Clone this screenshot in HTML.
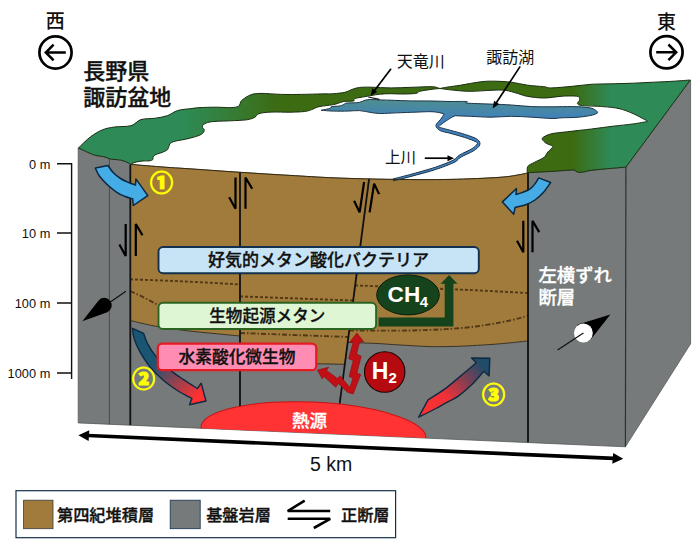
<!DOCTYPE html>
<html lang="ja"><head><meta charset="utf-8"><title>諏訪盆地</title>
<style>html,body{margin:0;padding:0;background:#fff}svg{display:block}</style></head>
<body>
<svg width="692" height="541" viewBox="0 0 692 541">
<defs>
<linearGradient id="gg" gradientUnits="userSpaceOnUse" x1="79" y1="0" x2="690" y2="0">
<stop offset="0" stop-color="#2e8b57"/><stop offset="0.17" stop-color="#2e8b57"/><stop offset="0.25" stop-color="#367c36"/><stop offset="0.325" stop-color="#3c6b12"/>
<stop offset="0.808" stop-color="#3c6b12"/><stop offset="0.872" stop-color="#2e8b57"/><stop offset="1" stop-color="#2e8b57"/>
</linearGradient>
<linearGradient id="lg" gradientUnits="userSpaceOnUse" x1="400" y1="100" x2="400" y2="119">
<stop offset="0" stop-color="#4f8e8e"/><stop offset="1" stop-color="#4081bd"/>
</linearGradient>
<linearGradient id="a2" gradientUnits="userSpaceOnUse" x1="136" y1="330" x2="203" y2="398">
<stop offset="0" stop-color="#1b5574"/><stop offset="0.38" stop-color="#1b5574"/><stop offset="0.95" stop-color="#ff3030"/><stop offset="1" stop-color="#ff3030"/>
</linearGradient>
<linearGradient id="a3" gradientUnits="userSpaceOnUse" x1="422" y1="414" x2="488" y2="360">
<stop offset="0" stop-color="#ff3030"/><stop offset="0.35" stop-color="#f03038"/><stop offset="0.92" stop-color="#1e4c6a"/><stop offset="1" stop-color="#1e4c6a"/>
</linearGradient>
</defs>
<rect width="692" height="541" fill="#fff"/>
<path d="M78.2,148 L78.4,148.0 L86.6,151.8 L93.5,154.7 L98.1,155.8 L105.1,157.0 L109.1,158.7 L113.2,159.3 L121.2,160.2 L127.0,162.2 L130.5,164.1 L130.5,164.4 C136.2,164.9 155.9,166.5 165.0,167.2 C174.1,167.9 172.5,167.7 185.0,168.5 C197.5,169.3 222.5,171.2 240.0,172.3 C257.5,173.5 274.2,174.5 290.0,175.4 C305.8,176.3 317.5,177.2 335.0,177.9 C352.5,178.6 375.8,179.2 395.0,179.4 C414.2,179.7 432.5,179.8 450.0,179.4 C467.5,179.1 488.3,178.1 500.0,177.3 C511.7,176.5 515.3,175.3 520.0,174.6 C524.7,173.8 526.7,173.1 528.0,172.8 L527.2,172.7 L535.9,172.2 L551.8,171.4 L567.7,170.3 L574.0,170.0 L578.0,172.3 L583.6,171.9 L591.5,170.3 L607.4,168.7 L625.9,167.1 L690.6,80 L690.6,343.8 L625.4,446.8 L78.2,422.9 Z" fill="#767a7a" stroke="#55595a" stroke-width="0.8"/>
<path d="M130.5,164.4 C136.2,164.9 155.9,166.5 165.0,167.2 C174.1,167.9 172.5,167.7 185.0,168.5 C197.5,169.3 230.8,171.7 240.0,172.3 L240,336 L240.0,336.0 C235.8,335.6 224.2,334.5 215.0,333.6 C205.8,332.7 194.5,331.7 185.0,330.5 C175.5,329.3 165.0,327.8 158.0,326.6 C151.0,325.5 147.6,324.6 143.0,323.6 C138.4,322.6 132.4,320.9 130.3,320.4 Z" fill="#a07b3b"/>
<path d="M240,172.3 L240.0,172.3 C248.3,172.8 274.2,174.5 290.0,175.4 C305.8,176.3 321.8,177.3 335.0,177.9 C348.2,178.5 363.4,178.7 369.1,178.8 L344.8,364.3 L300,363.5 L240,362 Z" fill="#a07b3b"/>
<path d="M369.1,178.8 L369.1,178.8 C373.4,178.9 381.5,179.3 395.0,179.4 C408.5,179.5 432.5,179.8 450.0,179.4 C467.5,179.1 488.3,178.1 500.0,177.3 C511.7,176.5 515.3,175.3 520.0,174.6 C524.7,173.8 526.7,173.1 528.0,172.8 L528,341 L528.0,341.0 C526.7,341.1 523.1,341.5 520.0,341.8 C516.9,342.1 513.7,342.5 509.5,342.9 C505.3,343.3 500.3,343.8 495.0,344.2 C489.7,344.6 484.4,344.9 477.7,345.3 C471.0,345.7 462.9,346.2 455.0,346.4 C447.1,346.6 439.2,346.8 430.0,346.6 C420.8,346.4 409.2,345.5 400.0,345.0 C390.8,344.5 383.7,343.8 375.0,343.4 C366.3,343.0 352.2,342.6 347.7,342.4 Z" fill="#a07b3b"/>
<path d="M130.3,320.4 C132.4,320.9 138.4,322.6 143.0,323.6 C147.6,324.6 151.0,325.5 158.0,326.6 C165.0,327.8 175.5,329.3 185.0,330.5 C194.5,331.7 205.8,332.7 215.0,333.6 C224.2,334.5 235.8,335.6 240.0,336.0 " fill="none" stroke="#3a3326" stroke-width="1"/>
<path d="M240,362 L300,363.5 L344.8,364.3" fill="none" stroke="#3a3326" stroke-width="1"/>
<path d="M528.0,341.0 C526.7,341.1 523.1,341.5 520.0,341.8 C516.9,342.1 513.7,342.5 509.5,342.9 C505.3,343.3 500.3,343.8 495.0,344.2 C489.7,344.6 484.4,344.9 477.7,345.3 C471.0,345.7 462.9,346.2 455.0,346.4 C447.1,346.6 439.2,346.8 430.0,346.6 C420.8,346.4 409.2,345.5 400.0,345.0 C390.8,344.5 383.7,343.8 375.0,343.4 C366.3,343.0 352.2,342.6 347.7,342.4 " fill="none" stroke="#3a3326" stroke-width="1"/>
<path d="M109.4,159 L109.4,424.3" stroke="#4a4d4d" stroke-width="1" fill="none"/>
<path d="M625.9,167.1 L625.4,446.8" stroke="#2e3131" stroke-width="1.2" fill="none"/>
<clipPath id="cf"><path d="M79,300 L626.5,300 L626.5,446.8 L79,422.9 Z"/></clipPath>
<path d="M130,279.4 Q185,281 240,284.5" fill="none" stroke="#523816" stroke-width="1.9" stroke-dasharray="3,2"/>
<path d="M130,291 Q146,298 158.5,305.5" fill="none" stroke="#523816" stroke-width="1.9" stroke-dasharray="5,2,1.5,2"/>
<path d="M240,296.4 L353.2,300.5" fill="none" stroke="#523816" stroke-width="1.9" stroke-dasharray="3,2"/>
<path d="M240,333 L348.4,337" fill="none" stroke="#523816" stroke-width="1.9" stroke-dasharray="5,2,1.5,2"/>
<path d="M355.1,285.4 C362.6,285.7 385.9,286.6 400.0,287.2 C414.1,287.8 426.6,288.3 439.5,288.8 C452.4,289.3 462.9,289.7 477.7,290.4 C492.4,291.1 519.6,292.6 528.0,293.0 " fill="none" stroke="#523816" stroke-width="1.9" stroke-dasharray="3,2"/>
<path d="M349.2,330.6 C357.7,330.6 386.5,330.7 400.0,330.6 C413.5,330.5 421.0,330.2 430.0,329.9 C439.0,329.6 445.9,329.2 453.8,328.6 C461.8,328.0 469.8,327.3 477.7,326.2 C485.6,325.1 494.6,323.5 501.5,322.2 C508.4,320.9 514.6,319.4 519.0,318.3 C523.4,317.2 526.5,316.0 528.0,315.5 " fill="none" stroke="#523816" stroke-width="1.9" stroke-dasharray="5,2,1.5,2"/>
<path d="M130.3,164.4 L130.3,424.9" stroke="#111" stroke-width="1.8" fill="none"/>
<path d="M240,172.2 L240,427.0" stroke="#111" stroke-width="1.8" fill="none"/>
<path d="M369.1,178.8 L339.5,405.0" stroke="#111" stroke-width="1.8" fill="none" stroke-width="1.8"/>
<path d="M528,172.8 L528,442.2" stroke="#111" stroke-width="1.8" fill="none"/>
<path d="M125.7,224.0 L125.7,256.0 L119.4,244.5" stroke="#000" stroke-width="2.2" fill="none" stroke-linejoin="bevel"/>
<path d="M135.8,256.0 L135.8,224.0 L142.5,235.3" stroke="#000" stroke-width="2.2" fill="none" stroke-linejoin="bevel"/>
<path d="M235.5,177.5 L235.5,208.8 L229.2,197.3" stroke="#000" stroke-width="2.2" fill="none" stroke-linejoin="bevel"/>
<path d="M245.5,208.8 L245.5,177.5 L252.2,188.8" stroke="#000" stroke-width="2.2" fill="none" stroke-linejoin="bevel"/>
<path d="M364.1,182 L359.6,212.4 L354.1,200.7" stroke="#000" stroke-width="2.2" fill="none" stroke-linejoin="bevel"/>
<path d="M369.6,212.4 L374.1,183.6 L379.1,194.1" stroke="#000" stroke-width="2.2" fill="none" stroke-linejoin="bevel"/>
<path d="M523.3,220.8 L523.3,252.3 L517.0,240.8" stroke="#000" stroke-width="2.2" fill="none" stroke-linejoin="bevel"/>
<path d="M532.5,252.3 L532.5,220.8 L539.2,232.1" stroke="#000" stroke-width="2.2" fill="none" stroke-linejoin="bevel"/>
<g clip-path="url(#cf)"><ellipse cx="313.5" cy="432.9" rx="112.5" ry="30.8" fill="#ff3333" stroke="#c81414" stroke-width="1" transform="matrix(1,0.0447,0,1,0,-14.01)"/></g>
<path d="M78.4,148.0 C80.4,146.2 86.3,140.0 90.3,137.0 C94.3,134.0 98.4,131.5 102.5,129.8 C106.6,128.1 110.0,127.7 114.7,127.0 C119.5,126.3 126.6,126.9 131.0,125.7 C135.4,124.5 136.9,120.8 141.0,119.6 C145.1,118.3 151.0,118.9 155.4,118.2 C159.8,117.5 163.9,116.9 167.6,115.6 C171.3,114.3 173.6,111.7 177.7,110.5 C181.8,109.3 188.3,109.0 192.0,108.5 C195.7,108.0 195.9,107.8 200.0,107.6 C204.1,107.4 211.2,107.2 216.3,107.2 C221.4,107.2 226.8,107.8 230.5,107.6 C234.2,107.4 236.7,107.4 238.6,106.2 C240.5,105.0 239.7,102.4 241.7,100.5 C243.7,98.6 247.6,96.0 250.8,94.8 C254.0,93.6 255.9,93.5 261.0,93.4 C266.1,93.3 274.5,94.2 281.3,94.4 C288.1,94.6 294.8,94.5 301.6,94.4 C308.4,94.3 316.7,94.0 322.0,93.9 C327.3,93.8 329.6,94.0 333.4,93.7 C337.2,93.4 341.8,93.0 344.9,92.3 C348.0,91.6 349.7,90.2 352.1,89.4 C354.5,88.6 356.3,87.9 359.4,87.5 C362.5,87.1 365.6,87.1 370.9,87.2 C376.2,87.3 384.5,87.9 391.3,87.9 C398.1,87.9 404.8,87.5 411.6,87.3 C418.4,87.1 427.3,86.5 432.0,86.7 C436.7,86.9 438.7,88.2 440.0,88.5 L440.0,88.5 C438.7,88.6 435.4,88.8 432.0,89.3 C428.6,89.8 422.5,90.6 419.8,91.3 C417.1,92.0 418.8,93.0 415.7,93.4 C412.6,93.9 405.8,94.0 401.5,94.0 C397.2,94.0 393.6,93.7 390.0,93.7 C386.4,93.7 382.8,93.9 379.6,94.2 C376.4,94.5 373.8,95.1 370.9,95.6 C368.0,96.1 365.1,96.6 362.3,97.1 C359.5,97.6 355.8,98.1 354.3,98.8 C352.9,99.5 355.2,100.6 353.6,101.0 C352.0,101.4 347.1,101.2 344.9,101.4 C342.7,101.6 342.5,101.9 340.6,102.4 C338.7,102.9 337.0,103.9 333.4,104.6 C329.8,105.3 322.5,105.9 318.9,106.7 C315.3,107.5 314.1,108.8 311.7,109.6 C309.3,110.4 308.1,111.1 304.5,111.5 C300.9,111.9 295.6,112.1 290.0,112.2 C284.4,112.3 276.3,111.8 271.1,112.1 C265.9,112.3 261.6,112.8 258.9,113.7 C256.2,114.6 256.9,116.2 254.9,117.2 C252.9,118.2 250.8,119.2 246.7,119.8 C242.6,120.4 235.8,120.5 230.5,120.8 C225.2,121.1 218.8,121.1 215.0,121.4 C211.2,121.7 209.7,121.9 207.7,122.5 C205.7,123.1 204.0,124.0 203.2,124.8 C202.3,125.6 202.4,126.6 202.6,127.5 C202.8,128.4 204.5,129.2 204.3,130.3 C204.1,131.4 203.4,133.0 201.6,134.2 C199.8,135.3 196.3,136.4 193.6,137.2 C190.9,138.0 188.6,138.5 185.5,139.2 C182.4,139.9 177.8,140.5 175.3,141.2 C172.8,141.9 171.4,142.4 170.3,143.3 C169.2,144.2 169.3,145.7 168.8,146.8 C168.3,147.9 168.4,148.9 167.3,149.8 C166.2,150.7 164.1,151.6 162.2,152.4 C160.3,153.2 157.6,153.7 156.1,154.4 C154.6,155.2 153.6,156.0 153.1,156.9 C152.6,157.8 153.5,158.9 152.8,159.6 C152.1,160.3 150.5,160.7 149.0,160.9 C147.5,161.1 146.0,160.7 143.9,160.9 C141.8,161.1 138.9,161.4 136.7,161.9 C134.5,162.4 131.5,163.7 130.5,164.1 L130.5,164.1 C129.9,163.8 128.6,162.8 127.0,162.2 C125.5,161.5 123.5,160.7 121.2,160.2 C118.9,159.7 115.2,159.6 113.2,159.3 C111.2,159.1 110.4,159.1 109.1,158.7 C107.8,158.3 106.9,157.5 105.1,157.0 C103.3,156.5 100.0,156.2 98.1,155.8 C96.2,155.4 95.4,155.4 93.5,154.7 C91.6,154.0 89.1,152.9 86.6,151.8 C84.1,150.7 79.8,148.6 78.4,148.0 Z" fill="url(#gg)" stroke="#1a2e10" stroke-width="1"/>
<path d="M440.0,88.5 C441.3,88.2 444.6,87.5 448.0,87.0 C451.4,86.5 455.0,86.1 460.5,85.2 C466.0,84.3 475.1,82.5 480.8,81.8 C486.6,81.1 489.9,81.1 495.0,81.2 C500.1,81.3 505.9,81.5 511.3,82.2 C516.7,82.9 522.2,84.5 527.6,85.2 C533.0,86.0 539.7,86.2 543.8,86.7 C547.9,87.2 547.2,88.0 552.0,87.9 C556.8,87.8 565.5,86.9 572.3,86.3 C579.1,85.7 585.9,84.6 592.7,84.2 C599.5,83.8 606.2,84.0 613.0,83.8 C619.8,83.6 626.5,83.5 633.3,83.2 C640.1,82.9 646.8,82.5 653.6,82.2 C660.4,81.9 667.9,81.6 674.0,81.2 C680.1,80.8 687.6,80.2 690.3,80.0 L625.9,167.1 L625.9,167.1 C622.8,167.4 613.1,168.2 607.4,168.7 C601.7,169.2 595.5,169.8 591.5,170.3 C587.5,170.8 585.9,171.6 583.6,171.9 C581.4,172.2 579.6,172.6 578.0,172.3 C576.4,172.0 575.7,170.3 574.0,170.0 C572.3,169.7 571.4,170.1 567.7,170.3 C564.0,170.5 557.1,171.1 551.8,171.4 C546.5,171.7 540.0,172.0 535.9,172.2 C531.8,172.4 528.7,172.6 527.2,172.7 L527.2,172.7 C527.3,171.6 526.7,168.0 527.9,166.3 C529.1,164.6 531.6,163.9 534.3,162.4 C536.9,160.9 541.5,159.3 543.8,157.6 C546.0,155.9 546.3,153.8 547.8,152.0 C549.3,150.2 552.9,147.9 552.6,146.5 C552.3,145.1 547.9,144.5 546.2,143.3 C544.5,142.1 542.7,140.4 542.3,139.3 C541.9,138.2 542.2,137.8 543.8,136.9 C545.4,136.0 547.8,134.6 551.8,133.7 C555.8,132.8 561.1,132.5 567.7,131.7 C574.3,130.9 584.0,129.9 591.5,129.0 C599.0,128.1 606.0,127.0 613.0,126.2 C620.0,125.4 627.5,124.7 633.3,123.9 C639.0,123.1 645.1,121.9 647.5,121.5 L647.5,121.0 C645.1,119.8 638.0,115.8 633.3,113.7 C628.5,111.6 624.1,109.8 619.0,108.6 C613.9,107.4 608.9,107.1 602.8,106.6 C596.7,106.1 586.7,106.1 582.5,105.6 C578.3,105.1 577.9,104.3 577.4,103.5 C576.9,102.7 579.2,101.7 579.4,100.5 C579.6,99.3 580.2,97.3 578.4,96.6 C576.5,95.8 571.4,96.0 568.3,96.0 C565.2,96.0 564.1,96.1 560.0,96.4 C555.9,96.7 549.2,98.0 543.8,98.0 C538.4,98.0 532.0,97.2 527.6,96.4 C523.2,95.6 521.1,94.4 517.4,93.4 C513.7,92.4 509.6,90.8 505.2,90.3 C500.8,89.8 496.8,90.1 491.0,90.3 C485.2,90.5 476.8,91.3 470.7,91.3 C464.6,91.3 459.5,90.8 454.4,90.3 C449.3,89.8 442.4,88.8 440.0,88.5 Z" fill="url(#gg)" stroke="#1a2e10" stroke-width="1"/>
<path d="M321.1,110.3 C322.7,110.0 328.8,108.8 330.5,108.2 C332.2,107.6 329.8,107.1 331.2,106.7 C332.6,106.3 337.1,106.3 339.1,106.0 C341.2,105.7 342.3,105.1 343.5,104.6 C344.7,104.1 344.7,103.4 346.4,103.1 C348.1,102.8 351.4,102.9 353.6,102.8 C355.8,102.7 357.5,102.8 359.4,102.4 C361.3,102.0 363.2,100.7 365.1,100.2 C367.0,99.7 368.5,99.5 370.9,99.5 C373.3,99.5 376.4,99.8 379.6,99.9 C382.8,100.0 384.7,100.0 390.0,100.2 C395.3,100.4 404.6,100.8 411.6,100.9 C418.6,101.0 425.6,100.9 432.0,101.0 C438.4,101.1 444.2,101.4 450.0,101.5 C455.8,101.6 463.8,101.2 466.6,101.5 C469.4,101.8 462.9,102.7 467.0,103.1 C471.1,103.5 483.6,103.8 491.0,104.1 C498.4,104.4 504.5,104.6 511.3,105.0 C518.1,105.4 524.8,106.3 531.6,106.6 C538.4,106.9 545.2,106.8 552.0,106.8 C558.8,106.8 566.2,106.5 572.3,106.6 C578.4,106.7 584.7,107.0 588.6,107.6 C592.5,108.2 594.2,109.3 595.7,110.2 C597.2,111.1 597.4,112.3 597.7,112.7 L597.7,112.7 C596.9,113.1 595.9,114.2 592.7,115.0 C589.5,115.8 583.5,116.7 578.4,117.2 C573.3,117.7 566.4,117.6 562.0,117.8 C557.6,118.0 557.1,118.6 552.0,118.5 C546.9,118.4 538.4,117.6 531.6,117.2 C524.8,116.8 518.1,116.3 511.3,116.3 C504.5,116.3 497.8,117.2 491.0,117.2 C484.2,117.2 476.0,116.5 470.7,116.3 C465.4,116.1 460.9,116.0 459.0,115.9 L455.1,115.7 C454.1,116.2 452.0,117.0 449.3,118.8 C446.6,120.6 440.3,124.7 439.1,126.3 C437.8,127.8 439.7,127.3 441.6,127.9 C443.6,128.6 446.7,129.2 450.7,130.4 C454.7,131.5 461.0,133.1 465.5,134.6 C469.9,136.1 475.1,137.7 477.4,139.4 C479.8,141.2 480.4,143.1 479.7,145.1 C479.0,147.0 476.5,148.9 473.4,150.9 C470.3,152.9 464.2,155.1 461.1,157.0 C458.1,158.8 458.1,160.3 455.0,162.0 C451.9,163.6 446.7,165.5 442.6,167.1 C438.5,168.6 434.7,169.8 430.3,171.2 C425.9,172.5 420.6,173.8 416.3,175.0 C411.9,176.2 408.0,177.2 404.3,178.2 C400.5,179.1 395.3,180.4 393.5,180.9 L393.1,178.9 C394.8,178.5 400.0,177.2 403.7,176.2 C407.5,175.2 411.4,174.2 415.7,173.0 C420.0,171.8 425.3,170.4 429.7,169.0 C434.0,167.7 437.8,166.5 441.8,164.9 C445.8,163.4 450.8,161.5 453.8,159.8 C456.8,158.2 456.8,156.7 459.9,154.8 C462.9,153.0 469.1,150.5 472.0,148.7 C474.9,146.9 476.5,145.1 477.1,143.9 C477.8,142.8 478.0,142.9 476.0,141.8 C473.9,140.7 468.9,138.8 464.5,137.4 C460.2,136.0 453.9,134.4 449.9,133.2 C445.9,132.1 442.7,131.9 440.4,130.7 C438.0,129.4 435.9,127.4 435.9,125.5 C435.9,123.7 439.0,121.5 440.4,119.6 C441.8,117.7 443.6,114.9 444.2,114.0 L443.0,113.5 C441.2,113.2 437.2,111.9 432.0,111.7 C426.8,111.5 418.4,112.1 411.6,112.3 C404.8,112.5 396.6,112.9 391.3,113.1 C386.0,113.3 383.0,113.6 379.6,113.5 C376.2,113.4 374.3,113.0 370.9,112.5 C367.5,112.0 363.2,110.8 359.4,110.6 C355.5,110.4 352.1,111.0 347.8,111.1 C343.5,111.2 337.8,111.2 333.4,111.1 C328.9,111.0 323.2,110.4 321.1,110.3 Z" fill="url(#lg)" stroke="#1c3448" stroke-width="1"/>
<path d="M368.3,97 L379.4,99.4" stroke="#111" stroke-width="1.1"/>
<path d="M130.5,164.4 C136.2,164.9 155.9,166.5 165.0,167.2 C174.1,167.9 172.5,167.7 185.0,168.5 C197.5,169.3 222.5,171.2 240.0,172.3 C257.5,173.5 274.2,174.5 290.0,175.4 C305.8,176.3 317.5,177.2 335.0,177.9 C352.5,178.6 375.8,179.2 395.0,179.4 C414.2,179.7 432.5,179.8 450.0,179.4 C467.5,179.1 488.3,178.1 500.0,177.3 C511.7,176.5 515.3,175.3 520.0,174.6 C524.7,173.8 526.7,173.1 528.0,172.8 " fill="none" stroke="#33280f" stroke-width="1"/>
<path d="M132.5,328.3 L143.6,333.3 L143.6,333.3 C144.2,335.0 145.5,339.8 147.5,343.6 C149.5,347.4 152.3,351.9 155.8,356.1 C159.3,360.3 163.7,364.7 168.3,368.6 C172.9,372.5 178.3,376.1 183.2,379.4 C188.0,382.7 195.0,387.0 197.4,388.5 L201.2,383.2 L206,401 L189.5,404.7 L191.9,398.5 L191.9,398.5 C189.6,397.2 183.0,394.1 178.2,391.0 C173.4,387.9 168.0,384.2 163.3,380.2 C158.6,376.2 153.9,371.6 150.0,366.9 C146.1,362.2 142.7,356.6 140.0,351.9 C137.3,347.2 135.3,342.5 134.1,338.6 C132.8,334.7 132.8,330.0 132.5,328.3 Z" fill="url(#a2)" stroke="#0e2a42" stroke-width="1.4" stroke-linejoin="round"/>
<rect x="158.5" y="247" width="320.3" height="26.2" rx="4.5" fill="#c7e4f7" stroke="#14304f" stroke-width="1.9"/>
<rect x="158.5" y="302.8" width="217.6" height="26.2" rx="4.5" fill="#dff6d4" stroke="#2b6420" stroke-width="1.9"/>
<rect x="157.8" y="343.6" width="158.5" height="26.6" rx="4.5" fill="#ff8db3" stroke="#e41c24" stroke-width="2.3"/>
<text x="318.6" y="266.3" text-anchor="middle" style="font-family:'Liberation Sans','Noto Sans CJK JP',sans-serif;font-size:17px;font-weight:500" fill="#111" stroke="#111" stroke-width="0.32">好気的メタン酸化バクテリア</text>
<text x="267.3" y="322.1" text-anchor="middle" style="font-family:'Liberation Sans','Noto Sans CJK JP',sans-serif;font-size:16.6px;font-weight:500" fill="#111" stroke="#111" stroke-width="0.32">生物起源メタン</text>
<text x="237" y="363.2" text-anchor="middle" style="font-family:'Liberation Sans','Noto Sans CJK JP',sans-serif;font-size:16.7px;font-weight:500" fill="#111" stroke="#111" stroke-width="0.32">水素酸化微生物</text>
<path d="M378.6,317.6 L444.7,317.6 L444.7,283.7 L440.6,283.7 L449.1,275 L457.5,283.7 L453.4,283.7 L453.4,326.4 L378.6,326.4 Z" fill="#15431b"/>
<ellipse cx="408" cy="294.9" rx="31.3" ry="20" fill="#15431b" stroke="#0c1c0c" stroke-width="1"/>
<text x="387.6" y="301.8" style="font-family:'Liberation Sans',sans-serif;font-size:22.6px;font-weight:700" fill="#fff">CH<tspan dy="5.2" dx="-0.6" font-size="15">4</tspan></text>
<path d="M356.9,333.0 L363.7,341.6 L359.6,342.2 L356.6,354.1 L361.2,356.2 L356.9,372.9 L360.7,374.5 L353.2,394.0 L347.4,392.3 L338.3,383.5 L335.8,387.3 L323.8,376.5 L322.3,379.0 L317.4,370.0 L328.6,367.3 L326.6,370.4 L337.5,378.5 L339.9,375.7 L349.9,387.3 L352.9,378.2 L349.1,376.5 L353.2,360.7 L348.6,358.6 L353.2,342.2 L349.4,342.4 Z" fill="#c00f15" stroke="#8f0a10" stroke-width="0.6" stroke-linejoin="round"/>
<circle cx="384.7" cy="372" r="20.2" fill="#b50b10" stroke="#1a0505" stroke-width="1.1"/>
<text x="371.8" y="379.1" style="font-family:'Liberation Sans',sans-serif;font-size:23px;font-weight:700" fill="#fff">H<tspan dy="4.3" font-size="15">2</tspan></text>
<text x="309.6" y="427" text-anchor="middle" style="font-family:'Liberation Sans','Noto Sans CJK JP',sans-serif;font-size:17.5px;font-weight:500" fill="#fff" stroke="#fff" stroke-width="0.3">熱源</text>
<path d="M418.7,417.2 L428,399.9 L428.0,399.9 C430.9,398.0 440.0,392.5 445.3,388.6 C450.6,384.7 454.7,380.9 459.9,376.6 C465.1,372.3 473.6,365.1 476.3,362.8 L471.5,358 L489.8,358.2 L489.1,375.9 L483.8,371.3 L483.8,371.3 C481.8,373.5 476.1,380.5 471.9,384.6 C467.7,388.7 463.0,392.8 458.6,395.9 C454.2,399.0 449.1,401.1 445.3,403.2 C441.5,405.3 440.3,406.2 435.9,408.5 C431.5,410.8 421.6,415.8 418.7,417.2 Z" fill="url(#a3)" stroke="#0e2a42" stroke-width="1.4" stroke-linejoin="round"/>
<path d="M108.0,165.5 C108.8,166.7 111.0,170.3 113.1,172.5 C115.2,174.7 117.9,176.8 120.5,178.5 C123.1,180.2 126.3,181.5 128.8,182.6 C131.3,183.7 134.4,184.6 135.5,185.0 L135.9,178.9 L147.8,195.6 L133.3,205.5 L132.7,198.8 L132.7,198.8 C131.4,198.4 127.8,197.6 125.1,196.5 C122.4,195.4 119.9,194.4 116.8,192.3 C113.7,190.2 109.5,186.8 106.6,184.0 C103.7,181.2 101.1,178.3 99.2,175.7 C97.3,173.0 96.0,169.4 95.4,168.1 Z" fill="#45ace6" stroke="#0c2740" stroke-width="1.5" stroke-linejoin="round"/>
<path d="M538.7,177.9 C538.1,178.9 536.5,182.0 535.0,183.9 C533.5,185.8 531.6,188.0 529.4,189.4 C527.2,190.8 524.2,191.8 522.0,192.6 C519.8,193.4 517.0,194.2 516.0,194.5 L516.5,188.5 L502.4,201.9 L513.7,214.2 L515.1,207.4 L515.1,207.4 C516.9,206.9 522.4,205.9 525.7,204.7 C529.0,203.5 532.1,202.0 535.0,200.0 C537.9,198.0 540.7,195.5 543.3,192.6 C545.9,189.7 549.5,184.2 550.7,182.5 Z" fill="#45ace6" stroke="#0c2740" stroke-width="1.5" stroke-linejoin="round"/>
<text x="161.5" y="191.2" text-anchor="middle" style="font-family:'Liberation Sans','Noto Sans CJK JP',sans-serif;font-size:23px;font-weight:900" fill="#ffff00" stroke="#ffff00" stroke-width="1.1" stroke-linejoin="round">①</text>
<text x="143.5" y="387.1" text-anchor="middle" style="font-family:'Liberation Sans','Noto Sans CJK JP',sans-serif;font-size:23px;font-weight:900" fill="#ffff00" stroke="#ffff00" stroke-width="1.1" stroke-linejoin="round">②</text>
<text x="493.4" y="403.1" text-anchor="middle" style="font-family:'Liberation Sans','Noto Sans CJK JP',sans-serif;font-size:23px;font-weight:900" fill="#ffff00" stroke="#ffff00" stroke-width="1.1" stroke-linejoin="round">③</text>
<path d="M125.9,291.3 L106,304.9" stroke="#111" stroke-width="1.2"/>
<path d="M82.3,321.3 L98.2,300.9 A7.5,7.5 0 1 1 107.3,312.2 Z" fill="#000"/>
<path d="M610.4,314.6 L578,324.6 A9.6,9.6 0 0 0 591.5,338.5 Z" fill="#000"/>
<circle cx="583.4" cy="333" r="9.4" fill="#fff"/>
<path d="M583.4,333 L557.6,350" stroke="#111" stroke-width="1.2"/>
<text x="538.6" y="282.3" style="font-family:'Liberation Sans','Noto Sans CJK JP',sans-serif;font-size:18.3px;font-weight:500" fill="#fff" stroke="#fff" stroke-width="0.32">左横ずれ</text>
<text x="538.6" y="304.4" style="font-family:'Liberation Sans','Noto Sans CJK JP',sans-serif;font-size:18.3px;font-weight:500" fill="#fff" stroke="#fff" stroke-width="0.32">断層</text>
<path d="M57,163.8 L71.6,163.8 L71.6,379 M57,233 L71.6,233 M57,303 L71.6,303 M57,373 L71.6,373" fill="none" stroke="#111" stroke-width="1.4"/>
<text x="50.3" y="168.7" text-anchor="end" style="font-family:'Liberation Sans',sans-serif;font-size:12.8px" fill="#111">0 m</text>
<text x="50.3" y="237.9" text-anchor="end" style="font-family:'Liberation Sans',sans-serif;font-size:12.8px" fill="#111">10 m</text>
<text x="50.3" y="307.9" text-anchor="end" style="font-family:'Liberation Sans',sans-serif;font-size:12.8px" fill="#111">100 m</text>
<text x="50.3" y="377.9" text-anchor="end" style="font-family:'Liberation Sans',sans-serif;font-size:12.8px" fill="#111">1000 m</text>
<path d="M88,435.5 L614,458.4" stroke="#000" stroke-width="3.7"/>
<path d="M78.4,435.2 L89.3,430.2 L88.6,441 Z" fill="#000"/>
<path d="M623.2,458.7 L613.2,453.1 L612.3,463.8 Z" fill="#000"/>
<text x="310" y="471" style="font-family:'Liberation Sans',sans-serif;font-size:19.5px" fill="#111">5 km</text>
<text x="83.3" y="79.3" style="font-family:'Liberation Sans','Noto Sans CJK JP',sans-serif;font-size:22px;font-weight:500" fill="#111" stroke="#111" stroke-width="0.32">長野県</text>
<text x="83.3" y="104.6" style="font-family:'Liberation Sans','Noto Sans CJK JP',sans-serif;font-size:22px;font-weight:500" fill="#111" stroke="#111" stroke-width="0.32">諏訪盆地</text>
<text x="55.2" y="28.2" text-anchor="middle" style="font-family:'Liberation Sans','Noto Sans CJK JP',sans-serif;font-size:19px;font-weight:500" fill="#111">西</text>
<text x="666.5" y="28.8" text-anchor="middle" style="font-family:'Liberation Sans','Noto Sans CJK JP',sans-serif;font-size:19px;font-weight:500" fill="#111">東</text>
<circle cx="55.5" cy="52.5" r="16.1" fill="#fff" stroke="#000" stroke-width="2.7"/>
<path d="M65.8,52.5 L46,52.5 M53.6,44.7 L45.8,52.5 L53.6,60.3" fill="none" stroke="#000" stroke-width="2.5"/>
<circle cx="666.5" cy="52.3" r="16.1" fill="#fff" stroke="#000" stroke-width="2.7"/>
<path d="M656.2,52.3 L676,52.3 M668.4,44.5 L676.2,52.3 L668.4,60.1" fill="none" stroke="#000" stroke-width="2.5"/>
<text x="396.8" y="67.3" style="font-family:'Liberation Sans','Noto Sans CJK JP',sans-serif;font-size:16px" fill="#111">天竜川</text>
<text x="486.3" y="62.5" style="font-family:'Liberation Sans','Noto Sans CJK JP',sans-serif;font-size:16px" fill="#111">諏訪湖</text>
<text x="385" y="163.3" style="font-family:'Liberation Sans','Noto Sans CJK JP',sans-serif;font-size:15.5px" fill="#111">上川</text>
<path d="M391,68.8 L373.6,91.8" stroke="#000" stroke-width="1.7"/>
<path d="M370.6,95.8 L372.4,88.2 L377.2,91.9 Z" fill="#000"/>
<path d="M520.2,66.4 L495.5,104" stroke="#000" stroke-width="1.7"/>
<path d="M492.7,108.4 L494,100.7 L499.1,104.1 Z" fill="#000"/>
<path d="M424.8,158.2 L449,158.2" stroke="#000" stroke-width="1.7"/>
<path d="M454,158.2 L447.5,155.2 L447.5,161.2 Z" fill="#000"/>
<rect x="16" y="490.7" width="379.6" height="47" fill="#fff" stroke="#14304f" stroke-width="1.2"/>
<rect x="23.6" y="500.2" width="29.4" height="28.5" fill="#a07b3b" stroke="#3b3b3b" stroke-width="0.8"/>
<rect x="170.2" y="500.2" width="30" height="28.5" fill="#767a7a" stroke="#14304f" stroke-width="0.8"/>
<text x="57" y="520.8" style="font-family:'Liberation Sans','Noto Sans CJK JP',sans-serif;font-size:16.2px;font-weight:500" fill="#111" stroke="#111" stroke-width="0.32">第四紀堆積層</text>
<text x="206.2" y="520.8" style="font-family:'Liberation Sans','Noto Sans CJK JP',sans-serif;font-size:16.2px;font-weight:500" fill="#111" stroke="#111" stroke-width="0.32">基盤岩層</text>
<text x="341" y="520.8" style="font-family:'Liberation Sans','Noto Sans CJK JP',sans-serif;font-size:16.2px;font-weight:500" fill="#111" stroke="#111" stroke-width="0.32">正断層</text>
<path d="M304.7,500.6 L287.7,511 L330.2,511 M287.7,518.8 L330.2,518.8 L313.8,528" fill="none" stroke="#000" stroke-width="2.6" stroke-linejoin="bevel"/>
</svg>
</body></html>
